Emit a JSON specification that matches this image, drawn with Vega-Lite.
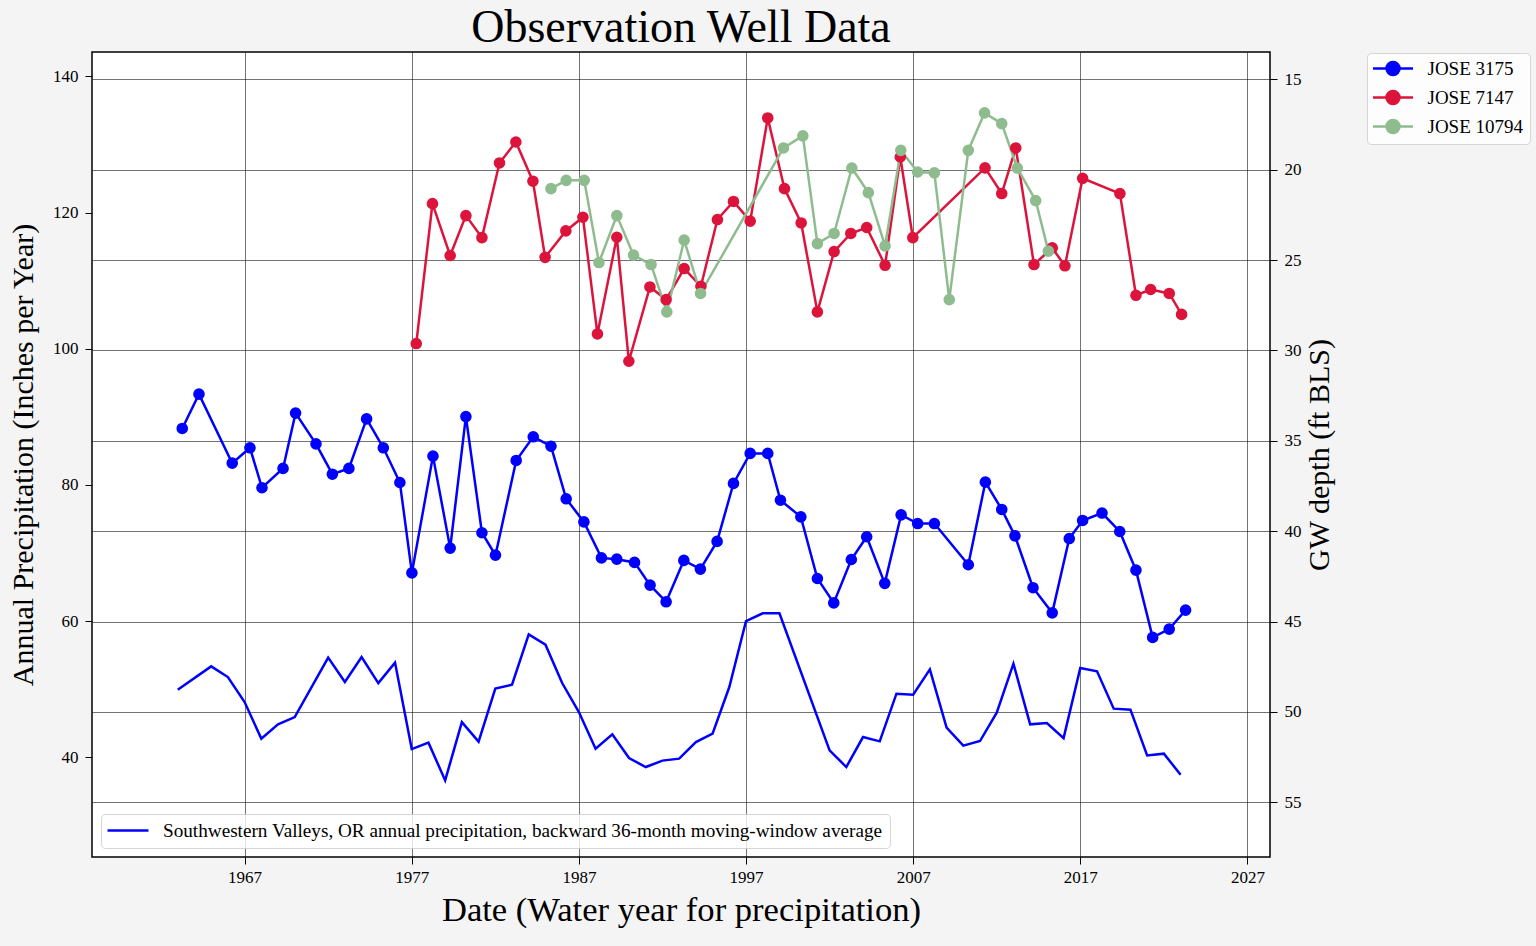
{
  "$schema": "https://vega.github.io/schema/vega-lite/v6.json",
  "autosize": {"type": "none"},
  "padding": {"left": 92, "top": 52, "right": 266, "bottom": 89},
  "width": 1178,
  "height": 805,
  "background": "#f4f4f4",
  "title": {
    "text": "Observation Well Data",
    "font": "Liberation Serif",
    "fontSize": 46,
    "fontWeight": "normal",
    "color": "#000",
    "anchor": "middle",
    "frame": "group",
    "offset": 0
  },
  "config": {
    "view": {"stroke": "#000", "strokeWidth": 1.5, "fill": "#ffffff"},
    "axis": {
      "labelFont": "Liberation Serif",
      "labelFontSize": 17,
      "labelColor": "#000",
      "titleFont": "Liberation Serif",
      "titleFontWeight": "normal",
      "titleColor": "#000",
      "domain": false,
      "tickColor": "#000",
      "tickSize": 7,
      "tickWidth": 1,
      "gridColor": "#000",
      "gridOpacity": 0.55,
      "gridWidth": 1
    },
    "legend": {
      "labelFont": "Liberation Serif",
      "labelFontSize": 19,
      "labelColor": "#000",
      "labelLimit": 0,
      "fillColor": "rgba(255,255,255,0.8)",
      "strokeColor": "rgba(204,204,204,0.8)",
      "cornerRadius": 4
    }
  },
  "datasets": {
    "precip": [
      {"year": 1963, "precip": 49.94, "series": "Southwestern Valleys, OR annual precipitation, backward 36-month moving-window average"},
      {"year": 1965, "precip": 53.36, "series": "Southwestern Valleys, OR annual precipitation, backward 36-month moving-window average"},
      {"year": 1966, "precip": 51.79, "series": "Southwestern Valleys, OR annual precipitation, backward 36-month moving-window average"},
      {"year": 1967, "precip": 48.12, "series": "Southwestern Valleys, OR annual precipitation, backward 36-month moving-window average"},
      {"year": 1968, "precip": 42.75, "series": "Southwestern Valleys, OR annual precipitation, backward 36-month moving-window average"},
      {"year": 1969, "precip": 44.85, "series": "Southwestern Valleys, OR annual precipitation, backward 36-month moving-window average"},
      {"year": 1970, "precip": 45.92, "series": "Southwestern Valleys, OR annual precipitation, backward 36-month moving-window average"},
      {"year": 1972, "precip": 54.64, "series": "Southwestern Valleys, OR annual precipitation, backward 36-month moving-window average"},
      {"year": 1973, "precip": 51.06, "series": "Southwestern Valleys, OR annual precipitation, backward 36-month moving-window average"},
      {"year": 1974, "precip": 54.73, "series": "Southwestern Valleys, OR annual precipitation, backward 36-month moving-window average"},
      {"year": 1975, "precip": 50.91, "series": "Southwestern Valleys, OR annual precipitation, backward 36-month moving-window average"},
      {"year": 1976, "precip": 53.91, "series": "Southwestern Valleys, OR annual precipitation, backward 36-month moving-window average"},
      {"year": 1977, "precip": 41.22, "series": "Southwestern Valleys, OR annual precipitation, backward 36-month moving-window average"},
      {"year": 1978, "precip": 42.16, "series": "Southwestern Valleys, OR annual precipitation, backward 36-month moving-window average"},
      {"year": 1979, "precip": 36.62, "series": "Southwestern Valleys, OR annual precipitation, backward 36-month moving-window average"},
      {"year": 1980, "precip": 45.18, "series": "Southwestern Valleys, OR annual precipitation, backward 36-month moving-window average"},
      {"year": 1981, "precip": 42.31, "series": "Southwestern Valleys, OR annual precipitation, backward 36-month moving-window average"},
      {"year": 1982, "precip": 50.09, "series": "Southwestern Valleys, OR annual precipitation, backward 36-month moving-window average"},
      {"year": 1983, "precip": 50.67, "series": "Southwestern Valleys, OR annual precipitation, backward 36-month moving-window average"},
      {"year": 1984, "precip": 58.06, "series": "Southwestern Valleys, OR annual precipitation, backward 36-month moving-window average"},
      {"year": 1985, "precip": 56.55, "series": "Southwestern Valleys, OR annual precipitation, backward 36-month moving-window average"},
      {"year": 1986, "precip": 50.91, "series": "Southwestern Valleys, OR annual precipitation, backward 36-month moving-window average"},
      {"year": 1987, "precip": 46.65, "series": "Southwestern Valleys, OR annual precipitation, backward 36-month moving-window average"},
      {"year": 1988, "precip": 41.28, "series": "Southwestern Valleys, OR annual precipitation, backward 36-month moving-window average"},
      {"year": 1989, "precip": 43.38, "series": "Southwestern Valleys, OR annual precipitation, backward 36-month moving-window average"},
      {"year": 1990, "precip": 39.90, "series": "Southwestern Valleys, OR annual precipitation, backward 36-month moving-window average"},
      {"year": 1991, "precip": 38.58, "series": "Southwestern Valleys, OR annual precipitation, backward 36-month moving-window average"},
      {"year": 1992, "precip": 39.52, "series": "Southwestern Valleys, OR annual precipitation, backward 36-month moving-window average"},
      {"year": 1993, "precip": 39.81, "series": "Southwestern Valleys, OR annual precipitation, backward 36-month moving-window average"},
      {"year": 1994, "precip": 42.25, "series": "Southwestern Valleys, OR annual precipitation, backward 36-month moving-window average"},
      {"year": 1995, "precip": 43.48, "series": "Southwestern Valleys, OR annual precipitation, backward 36-month moving-window average"},
      {"year": 1996, "precip": 50.33, "series": "Southwestern Valleys, OR annual precipitation, backward 36-month moving-window average"},
      {"year": 1997, "precip": 60.02, "series": "Southwestern Valleys, OR annual precipitation, backward 36-month moving-window average"},
      {"year": 1998, "precip": 61.15, "series": "Southwestern Valleys, OR annual precipitation, backward 36-month moving-window average"},
      {"year": 1999, "precip": 61.15, "series": "Southwestern Valleys, OR annual precipitation, backward 36-month moving-window average"},
      {"year": 2002, "precip": 41.03, "series": "Southwestern Valleys, OR annual precipitation, backward 36-month moving-window average"},
      {"year": 2003, "precip": 38.58, "series": "Southwestern Valleys, OR annual precipitation, backward 36-month moving-window average"},
      {"year": 2004, "precip": 42.98, "series": "Southwestern Valleys, OR annual precipitation, backward 36-month moving-window average"},
      {"year": 2005, "precip": 42.35, "series": "Southwestern Valleys, OR annual precipitation, backward 36-month moving-window average"},
      {"year": 2006, "precip": 49.35, "series": "Southwestern Valleys, OR annual precipitation, backward 36-month moving-window average"},
      {"year": 2007, "precip": 49.21, "series": "Southwestern Valleys, OR annual precipitation, backward 36-month moving-window average"},
      {"year": 2008, "precip": 52.92, "series": "Southwestern Valleys, OR annual precipitation, backward 36-month moving-window average"},
      {"year": 2009, "precip": 44.36, "series": "Southwestern Valleys, OR annual precipitation, backward 36-month moving-window average"},
      {"year": 2010, "precip": 41.72, "series": "Southwestern Valleys, OR annual precipitation, backward 36-month moving-window average"},
      {"year": 2011, "precip": 42.40, "series": "Southwestern Valleys, OR annual precipitation, backward 36-month moving-window average"},
      {"year": 2012, "precip": 46.56, "series": "Southwestern Valleys, OR annual precipitation, backward 36-month moving-window average"},
      {"year": 2013, "precip": 53.76, "series": "Southwestern Valleys, OR annual precipitation, backward 36-month moving-window average"},
      {"year": 2014, "precip": 44.85, "series": "Southwestern Valleys, OR annual precipitation, backward 36-month moving-window average"},
      {"year": 2015, "precip": 45.04, "series": "Southwestern Valleys, OR annual precipitation, backward 36-month moving-window average"},
      {"year": 2016, "precip": 42.83, "series": "Southwestern Valleys, OR annual precipitation, backward 36-month moving-window average"},
      {"year": 2017, "precip": 53.11, "series": "Southwestern Valleys, OR annual precipitation, backward 36-month moving-window average"},
      {"year": 2018, "precip": 52.63, "series": "Southwestern Valleys, OR annual precipitation, backward 36-month moving-window average"},
      {"year": 2019, "precip": 47.15, "series": "Southwestern Valleys, OR annual precipitation, backward 36-month moving-window average"},
      {"year": 2020, "precip": 47.00, "series": "Southwestern Valleys, OR annual precipitation, backward 36-month moving-window average"},
      {"year": 2021, "precip": 40.29, "series": "Southwestern Valleys, OR annual precipitation, backward 36-month moving-window average"},
      {"year": 2022, "precip": 40.54, "series": "Southwestern Valleys, OR annual precipitation, backward 36-month moving-window average"},
      {"year": 2023, "precip": 37.46, "series": "Southwestern Valleys, OR annual precipitation, backward 36-month moving-window average"}
    ],
    "wells": [
      {"well": "JOSE 3175", "year": 1963.27, "depth": 34.32},
      {"well": "JOSE 3175", "year": 1964.27, "depth": 32.42},
      {"well": "JOSE 3175", "year": 1966.26, "depth": 36.24},
      {"well": "JOSE 3175", "year": 1967.32, "depth": 35.39},
      {"well": "JOSE 3175", "year": 1968.04, "depth": 37.60},
      {"well": "JOSE 3175", "year": 1969.30, "depth": 36.53},
      {"well": "JOSE 3175", "year": 1970.05, "depth": 33.47},
      {"well": "JOSE 3175", "year": 1971.27, "depth": 35.17},
      {"well": "JOSE 3175", "year": 1972.25, "depth": 36.85},
      {"well": "JOSE 3175", "year": 1973.24, "depth": 36.53},
      {"well": "JOSE 3175", "year": 1974.30, "depth": 33.79},
      {"well": "JOSE 3175", "year": 1975.30, "depth": 35.39},
      {"well": "JOSE 3175", "year": 1976.29, "depth": 37.31},
      {"well": "JOSE 3175", "year": 1977.01, "depth": 42.31},
      {"well": "JOSE 3175", "year": 1978.27, "depth": 35.85},
      {"well": "JOSE 3175", "year": 1979.30, "depth": 40.94},
      {"well": "JOSE 3175", "year": 1980.24, "depth": 33.66},
      {"well": "JOSE 3175", "year": 1981.20, "depth": 40.09},
      {"well": "JOSE 3175", "year": 1982.01, "depth": 41.33},
      {"well": "JOSE 3175", "year": 1983.25, "depth": 36.09},
      {"well": "JOSE 3175", "year": 1984.27, "depth": 34.78},
      {"well": "JOSE 3175", "year": 1985.33, "depth": 35.30},
      {"well": "JOSE 3175", "year": 1986.24, "depth": 38.21},
      {"well": "JOSE 3175", "year": 1987.30, "depth": 39.49},
      {"well": "JOSE 3175", "year": 1988.35, "depth": 41.48},
      {"well": "JOSE 3175", "year": 1989.27, "depth": 41.55},
      {"well": "JOSE 3175", "year": 1990.33, "depth": 41.73},
      {"well": "JOSE 3175", "year": 1991.26, "depth": 42.99},
      {"well": "JOSE 3175", "year": 1992.22, "depth": 43.91},
      {"well": "JOSE 3175", "year": 1993.28, "depth": 41.62},
      {"well": "JOSE 3175", "year": 1994.27, "depth": 42.10},
      {"well": "JOSE 3175", "year": 1995.27, "depth": 40.57},
      {"well": "JOSE 3175", "year": 1996.25, "depth": 37.36},
      {"well": "JOSE 3175", "year": 1997.25, "depth": 35.70},
      {"well": "JOSE 3175", "year": 1998.30, "depth": 35.70},
      {"well": "JOSE 3175", "year": 1999.06, "depth": 38.29},
      {"well": "JOSE 3175", "year": 2000.28, "depth": 39.21},
      {"well": "JOSE 3175", "year": 2001.27, "depth": 42.62},
      {"well": "JOSE 3175", "year": 2002.25, "depth": 43.97},
      {"well": "JOSE 3175", "year": 2003.30, "depth": 41.57},
      {"well": "JOSE 3175", "year": 2004.22, "depth": 40.31},
      {"well": "JOSE 3175", "year": 2005.30, "depth": 42.89},
      {"well": "JOSE 3175", "year": 2006.28, "depth": 39.10},
      {"well": "JOSE 3175", "year": 2007.27, "depth": 39.58},
      {"well": "JOSE 3175", "year": 2008.27, "depth": 39.58},
      {"well": "JOSE 3175", "year": 2010.30, "depth": 41.86},
      {"well": "JOSE 3175", "year": 2011.32, "depth": 37.29},
      {"well": "JOSE 3175", "year": 2012.30, "depth": 38.80},
      {"well": "JOSE 3175", "year": 2013.09, "depth": 40.26},
      {"well": "JOSE 3175", "year": 2014.17, "depth": 43.13},
      {"well": "JOSE 3175", "year": 2015.32, "depth": 44.52},
      {"well": "JOSE 3175", "year": 2016.34, "depth": 40.41},
      {"well": "JOSE 3175", "year": 2017.14, "depth": 39.41},
      {"well": "JOSE 3175", "year": 2018.30, "depth": 39.00},
      {"well": "JOSE 3175", "year": 2019.36, "depth": 40.02},
      {"well": "JOSE 3175", "year": 2020.33, "depth": 42.16},
      {"well": "JOSE 3175", "year": 2021.33, "depth": 45.88},
      {"well": "JOSE 3175", "year": 2022.32, "depth": 45.42},
      {"well": "JOSE 3175", "year": 2023.30, "depth": 44.37},
      {"well": "JOSE 7147", "year": 1977.27, "depth": 29.62},
      {"well": "JOSE 7147", "year": 1978.24, "depth": 21.88},
      {"well": "JOSE 7147", "year": 1979.30, "depth": 24.75},
      {"well": "JOSE 7147", "year": 1980.24, "depth": 22.54},
      {"well": "JOSE 7147", "year": 1981.20, "depth": 23.76},
      {"well": "JOSE 7147", "year": 1982.25, "depth": 19.63},
      {"well": "JOSE 7147", "year": 1983.23, "depth": 18.47},
      {"well": "JOSE 7147", "year": 1984.25, "depth": 20.64},
      {"well": "JOSE 7147", "year": 1984.98, "depth": 24.85},
      {"well": "JOSE 7147", "year": 1986.22, "depth": 23.39},
      {"well": "JOSE 7147", "year": 1987.24, "depth": 22.63},
      {"well": "JOSE 7147", "year": 1988.11, "depth": 29.09},
      {"well": "JOSE 7147", "year": 1989.27, "depth": 23.74},
      {"well": "JOSE 7147", "year": 1989.99, "depth": 30.60},
      {"well": "JOSE 7147", "year": 1991.25, "depth": 26.49},
      {"well": "JOSE 7147", "year": 1992.22, "depth": 27.19},
      {"well": "JOSE 7147", "year": 1993.30, "depth": 25.47},
      {"well": "JOSE 7147", "year": 1994.30, "depth": 26.45},
      {"well": "JOSE 7147", "year": 1995.29, "depth": 22.76},
      {"well": "JOSE 7147", "year": 1996.25, "depth": 21.76},
      {"well": "JOSE 7147", "year": 1997.25, "depth": 22.85},
      {"well": "JOSE 7147", "year": 1998.30, "depth": 17.14},
      {"well": "JOSE 7147", "year": 1999.30, "depth": 21.05},
      {"well": "JOSE 7147", "year": 2000.30, "depth": 22.95},
      {"well": "JOSE 7147", "year": 2001.27, "depth": 27.87},
      {"well": "JOSE 7147", "year": 2002.27, "depth": 24.53},
      {"well": "JOSE 7147", "year": 2003.27, "depth": 23.53},
      {"well": "JOSE 7147", "year": 2004.22, "depth": 23.20},
      {"well": "JOSE 7147", "year": 2005.32, "depth": 25.29},
      {"well": "JOSE 7147", "year": 2006.23, "depth": 19.30},
      {"well": "JOSE 7147", "year": 2006.98, "depth": 23.76},
      {"well": "JOSE 7147", "year": 2011.30, "depth": 19.90},
      {"well": "JOSE 7147", "year": 2012.30, "depth": 21.32},
      {"well": "JOSE 7147", "year": 2013.14, "depth": 18.80},
      {"well": "JOSE 7147", "year": 2014.23, "depth": 25.25},
      {"well": "JOSE 7147", "year": 2015.32, "depth": 24.33},
      {"well": "JOSE 7147", "year": 2016.08, "depth": 25.32},
      {"well": "JOSE 7147", "year": 2017.14, "depth": 20.48},
      {"well": "JOSE 7147", "year": 2019.37, "depth": 21.32},
      {"well": "JOSE 7147", "year": 2020.33, "depth": 26.95},
      {"well": "JOSE 7147", "year": 2021.21, "depth": 26.63},
      {"well": "JOSE 7147", "year": 2022.32, "depth": 26.85},
      {"well": "JOSE 7147", "year": 2023.06, "depth": 28.01},
      {"well": "JOSE 10794", "year": 1985.33, "depth": 21.05},
      {"well": "JOSE 10794", "year": 1986.24, "depth": 20.59},
      {"well": "JOSE 10794", "year": 1987.32, "depth": 20.59},
      {"well": "JOSE 10794", "year": 1988.20, "depth": 25.14},
      {"well": "JOSE 10794", "year": 1989.27, "depth": 22.54},
      {"well": "JOSE 10794", "year": 1990.27, "depth": 24.73},
      {"well": "JOSE 10794", "year": 1991.32, "depth": 25.25},
      {"well": "JOSE 10794", "year": 1992.26, "depth": 27.87},
      {"well": "JOSE 10794", "year": 1993.30, "depth": 23.90},
      {"well": "JOSE 10794", "year": 1994.28, "depth": 26.85},
      {"well": "JOSE 10794", "year": 1999.24, "depth": 18.80},
      {"well": "JOSE 10794", "year": 2000.40, "depth": 18.13},
      {"well": "JOSE 10794", "year": 2001.27, "depth": 24.09},
      {"well": "JOSE 10794", "year": 2002.27, "depth": 23.53},
      {"well": "JOSE 10794", "year": 2003.33, "depth": 19.91},
      {"well": "JOSE 10794", "year": 2004.32, "depth": 21.27},
      {"well": "JOSE 10794", "year": 2005.32, "depth": 24.22},
      {"well": "JOSE 10794", "year": 2006.26, "depth": 18.93},
      {"well": "JOSE 10794", "year": 2007.27, "depth": 20.13},
      {"well": "JOSE 10794", "year": 2008.27, "depth": 20.18},
      {"well": "JOSE 10794", "year": 2009.16, "depth": 27.19},
      {"well": "JOSE 10794", "year": 2010.30, "depth": 18.93},
      {"well": "JOSE 10794", "year": 2011.27, "depth": 16.86},
      {"well": "JOSE 10794", "year": 2012.30, "depth": 17.45},
      {"well": "JOSE 10794", "year": 2013.23, "depth": 19.91},
      {"well": "JOSE 10794", "year": 2014.33, "depth": 21.71},
      {"well": "JOSE 10794", "year": 2015.09, "depth": 24.51}
    ]
  },
  "layer": [
    {
      "data": {"name": "precip"},
      "mark": {"type": "line", "strokeWidth": 2.5},
      "encoding": {
        "x": {
          "field": "year",
          "type": "quantitative",
          "scale": {"domain": [1957.87, 2028.35], "nice": false, "zero": false},
          "axis": {
            "values": [1967, 1977, 1987, 1997, 2007, 2017, 2027],
            "format": "d",
            "grid": true,
            "labelPadding": 5,
            "title": "Date (Water year for precipitation)",
            "titleFontSize": 34.6,
            "titlePadding": 8
          }
        },
        "y": {
          "field": "precip",
          "type": "quantitative",
          "scale": {"domain": [25.37, 143.57], "nice": false, "zero": false},
          "axis": {
            "orient": "left",
            "values": [40, 60, 80, 100, 120, 140],
            "grid": false,
            "labelPadding": 7,
            "title": "Annual Precipitation (Inches per Year)",
            "titleFontSize": 30,
            "titlePadding": 14
          }
        },
        "color": {
          "field": "series",
          "type": "nominal",
          "scale": {"range": ["#0000ff"]},
          "legend": {
            "title": null,
            "orient": "bottom-left",
            "offset": 9,
            "symbolType": "M-3.15,0H3.15",
            "symbolSize": 169,
            "symbolStrokeWidth": 2.5,
            "symbolOffset": 10.4,
            "padding": 7,
            "labelOffset": 25.4,
            "labelFontSize": 19.2
          }
        }
      }
    },
    {
      "data": {"name": "wells"},
      "mark": {"type": "line", "strokeWidth": 2.5, "point": {"filled": true, "size": 135, "opacity": 1}},
      "encoding": {
        "x": {"field": "year", "type": "quantitative"},
        "y": {
          "field": "depth",
          "type": "quantitative",
          "scale": {"domain": [13.49, 58.03], "reverse": true, "nice": false, "zero": false},
          "axis": {
            "orient": "right",
            "values": [15, 20, 25, 30, 35, 40, 45, 50, 55],
            "grid": true,
            "labelPadding": 7,
            "title": "GW depth (ft BLS)",
            "titleFontSize": 30,
            "titleAngle": 270,
            "titleBaseline": "top",
            "titlePadding": 3
          }
        },
        "color": {
          "field": "well",
          "type": "nominal",
          "scale": {"domain": ["JOSE 3175", "JOSE 7147", "JOSE 10794"], "range": ["#0000ff", "#dc143c", "#8fbc8f"]},
          "legend": {
            "title": null,
            "orient": "none",
            "legendX": 1275,
            "legendY": 1,
            "symbolType": "M-3.08,0H3.08M-1,0A1,1,0,1,0,1,0A1,1,0,1,0,-1,0Z",
            "symbolSize": 169,
            "symbolStrokeWidth": 2.5,
            "symbolOffset": 10.5,
            "padding": 6,
            "rowPadding": 6,
            "labelOffset": 25,
            "encode": {
              "symbols": {
                "update": {
                  "fill": {"value": {"expr": "datum.value === 'JOSE 3175' ? '#0000ff' : datum.value === 'JOSE 7147' ? '#dc143c' : '#8fbc8f'"}},
                  "stroke": {"value": {"expr": "datum.value === 'JOSE 3175' ? '#0000ff' : datum.value === 'JOSE 7147' ? '#dc143c' : '#8fbc8f'"}},
                  "strokeWidth": {"value": 2.5},
                  "fillOpacity": {"value": 1},
                  "strokeOpacity": {"value": 1}
                }
              }
            }
          }
        }
      }
    }
  ],
  "resolve": {"scale": {"y": "independent", "color": "independent"}}
}
